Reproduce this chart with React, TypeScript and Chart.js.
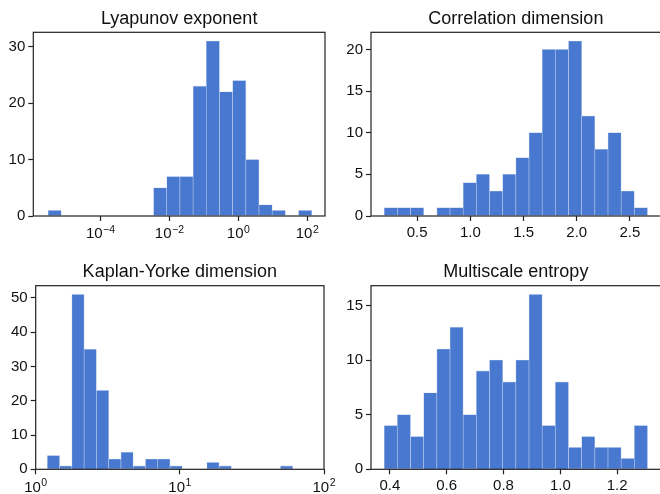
import React, { useEffect, useRef } from "react";
import { Chart, registerables } from "chart.js";

Chart.register(...registerables);

// ---------- DATA ----------
// Lyapunov exponent (log10-spaced bins)
const lyapunovCounts = [1, 0, 0, 0, 0, 0, 0, 0, 5, 7, 7, 23, 31, 22, 24, 10, 2, 1, 0, 1];
const lyapunovBinRangeLog10 = [-5.52, 2.13];
const lyapunovXLimLog10 = [-5.95, 2.515];
const lyapunovXTicks = [1e-4, 1e-2, 1, 100];
const lyapunovXTickExponents = ["−4", "−2", "0", "2"];
const lyapunovYTicks = [0, 10, 20, 30];
const lyapunovYMax = 32.55;

// Correlation dimension (linear bins)
const correlationCounts = [1, 1, 1, 0, 1, 1, 4, 5, 3, 5, 7, 10, 20, 20, 21, 12, 8, 10, 3, 1];
const correlationBinRange = [0.19, 2.665];
const correlationXLim = [0.066, 2.789];
const correlationXTicks = [0.5, 1.0, 1.5, 2.0, 2.5];
const correlationXTickLabels = ["0.5", "1.0", "1.5", "2.0", "2.5"];
const correlationYTicks = [0, 5, 10, 15, 20];
const correlationYMax = 22.05;

// Kaplan-Yorke dimension (log10-spaced bins)
const kaplanCounts = [4, 1, 51, 35, 23, 3, 5, 1, 3, 3, 1, 0, 0, 2, 1, 0, 0, 0, 0, 1];
const kaplanBinRangeLog10 = [0.0807, 1.783];
const kaplanXLimLog10 = [0, 2];
const kaplanXTicks = [1, 10, 100];
const kaplanXTickExponents = ["0", "1", "2"];
const kaplanYTicks = [0, 10, 20, 30, 40, 50];
const kaplanYMax = 53.55;

// Multiscale entropy (linear bins)
const entropyCounts = [4, 5, 3, 7, 11, 13, 5, 9, 10, 8, 10, 16, 4, 8, 2, 3, 2, 2, 1, 4];
const entropyBinRange = [0.38, 1.307];
const entropyXLim = [0.3336, 1.3534];
const entropyXTicks = [0.4, 0.6, 0.8, 1.0, 1.2];
const entropyXTickLabels = ["0.4", "0.6", "0.8", "1.0", "1.2"];
const entropyYTicks = [0, 5, 10, 15];
const entropyYMax = 16.8;

// ---------- LAYOUT / STYLE ----------
const CANVAS_W = 670;
const CANVAS_H = 494;
const Y_AXIS_W = 30;
const X_AXIS_H = 40;
const BAR_COLOR = "#4878CF";
const BAR_EDGE = "#c0d0ee";
const TEXT_COLOR = "#111";
const FONT_FAMILY = '"Liberation Sans", Arial, Helvetica, sans-serif';
const TICK_FONT_SIZE = 15;
const SUP_FONT_SIZE = 10.5;
const TITLE_FONT_SIZE = 18;
const TICK_LEN = 5;
const TICK_PAD = 3;

type Panel = {
  title: string;
  counts: number[];
  binRange: number[];
  log: boolean;
  xLim: number[];
  xTicks: number[];
  xTickLabels: string[];
  yTicks: number[];
  yMax: number;
  area: { l: number; t: number; r: number; b: number };
};

function binCenters(counts: number[], range: number[], log: boolean): number[] {
  const n = counts.length;
  const [lo, hi] = range;
  const w = (hi - lo) / n;
  return counts.map((_, i) => {
    const c = lo + w * (i + 0.5);
    return log ? Math.pow(10, c) : c;
  });
}

const panels: Panel[] = [
  {
    title: "Lyapunov exponent",
    counts: lyapunovCounts,
    binRange: lyapunovBinRangeLog10,
    log: true,
    xLim: lyapunovXLimLog10.map((v) => Math.pow(10, v)),
    xTicks: lyapunovXTicks,
    xTickLabels: lyapunovXTickExponents,
    yTicks: lyapunovYTicks,
    yMax: lyapunovYMax,
    area: { l: 33.3, t: 32.3, r: 325, b: 216 },
  },
  {
    title: "Correlation dimension",
    counts: correlationCounts,
    binRange: correlationBinRange,
    log: false,
    xLim: correlationXLim,
    xTicks: correlationXTicks,
    xTickLabels: correlationXTickLabels,
    yTicks: correlationYTicks,
    yMax: correlationYMax,
    area: { l: 371, t: 32.3, r: 660.7, b: 216 },
  },
  {
    title: "Kaplan-Yorke dimension",
    counts: kaplanCounts,
    binRange: kaplanBinRangeLog10,
    log: true,
    xLim: kaplanXLimLog10.map((v) => Math.pow(10, v)),
    xTicks: kaplanXTicks,
    xTickLabels: kaplanXTickExponents,
    yTicks: kaplanYTicks,
    yMax: kaplanYMax,
    area: { l: 35.7, t: 285.7, r: 324, b: 469.3 },
  },
  {
    title: "Multiscale entropy",
    counts: entropyCounts,
    binRange: entropyBinRange,
    log: false,
    xLim: entropyXLim,
    xTicks: entropyXTicks,
    xTickLabels: entropyXTickLabels,
    yTicks: entropyYTicks,
    yMax: entropyYMax,
    area: { l: 371, t: 285.7, r: 660.7, b: 469.3 },
  },
];

function PanelChart({ cfg }: { cfg: Panel }) {
  const ref = useRef<HTMLCanvasElement>(null);

  useEffect(() => {
    if (!ref.current) return;
    const centers = binCenters(cfg.counts, cfg.binRange, cfg.log);
    const tickFont = { family: FONT_FAMILY, size: TICK_FONT_SIZE };
    const gridOpts = {
      display: true,
      drawOnChartArea: false,
      drawTicks: true,
      tickLength: TICK_LEN,
      tickWidth: 1.2,
      tickColor: "#222",
      offset: false,
    };
    const framePlugin = {
      id: "frameAndTitle",
      afterDraw(chart: any) {
        const { ctx, chartArea } = chart;
        const { left, top, right, bottom } = chartArea;
        ctx.save();
        ctx.strokeStyle = "#222";
        ctx.lineWidth = 1.2;
        ctx.strokeRect(left, top, right - left, bottom - top);
        ctx.font = `${TITLE_FONT_SIZE}px ${FONT_FAMILY}`;
        ctx.fillStyle = TEXT_COLOR;
        ctx.textAlign = "center";
        ctx.textBaseline = "alphabetic";
        ctx.fillText(cfg.title, (left + right) / 2, top - 8.5);

        // log-axis labels: "10" with a raised, smaller exponent
        if (cfg.log) {
          const xs = chart.scales.x;
          const baseFont = `${TICK_FONT_SIZE}px ${FONT_FAMILY}`;
          const supFont = `${SUP_FONT_SIZE}px ${FONT_FAMILY}`;
          const baseline = bottom + TICK_LEN + TICK_PAD + TICK_FONT_SIZE * 0.95;
          ctx.textAlign = "left";
          ctx.textBaseline = "alphabetic";
          cfg.xTicks.forEach((v, i) => {
            const px = xs.getPixelForValue(v);
            ctx.font = baseFont;
            const wBase = ctx.measureText("10").width;
            ctx.font = supFont;
            const wSup = ctx.measureText(cfg.xTickLabels[i]).width;
            const x0 = px - (wBase + wSup + 0.5) / 2;
            ctx.font = baseFont;
            ctx.fillText("10", x0, baseline);
            ctx.font = supFont;
            ctx.fillText(cfg.xTickLabels[i], x0 + wBase + 0.5, baseline - 5.5);
          });
        }
        ctx.restore();
      },
    };
    const { l, t, r, b } = cfg.area;
    const chart = new Chart(ref.current, {
      type: "bar",
      data: {
        datasets: [
          {
            data: centers.map((x, i) => ({ x, y: cfg.counts[i] })),
            backgroundColor: BAR_COLOR,
            borderColor: BAR_EDGE,
            borderWidth: 0.6,
            barPercentage: 1,
            categoryPercentage: 1,
          } as any,
        ],
      },
      options: {
        responsive: false,
        animation: false,
        devicePixelRatio: 1,
        events: [],
        layout: {
          padding: {
            left: l - Y_AXIS_W,
            top: t,
            right: CANVAS_W - r,
            bottom: CANVAS_H - b - X_AXIS_H,
          },
        },
        plugins: {
          legend: { display: false },
          tooltip: { enabled: false },
          title: { display: false },
        },
        scales: {
          x: {
            type: cfg.log ? "logarithmic" : "linear",
            min: cfg.xLim[0],
            max: cfg.xLim[1],
            bounds: "data",
            offset: false,
            grid: gridOpts,
            border: { display: false },
            ticks: {
              font: tickFont,
              color: cfg.log ? "rgba(0,0,0,0)" : TEXT_COLOR,
              padding: TICK_PAD,
              maxRotation: 0,
              autoSkip: false,
              callback: (_v: any, i: number) =>
                cfg.log ? "10" + cfg.xTickLabels[i] : cfg.xTickLabels[i],
            },
            afterBuildTicks: (s: any) => {
              s.ticks = cfg.xTicks.map((v) => ({ value: v }));
            },
            afterFit: (s: any) => {
              s.height = X_AXIS_H;
            },
          } as any,
          y: {
            type: "linear",
            min: 0,
            max: cfg.yMax,
            bounds: "data",
            grid: gridOpts,
            border: { display: false },
            ticks: {
              font: tickFont,
              color: TEXT_COLOR,
              padding: TICK_PAD,
              autoSkip: false,
              callback: (v: any) => String(v),
            },
            afterBuildTicks: (s: any) => {
              s.ticks = cfg.yTicks.map((v) => ({ value: v }));
            },
            afterFit: (s: any) => {
              s.width = Y_AXIS_W;
            },
          } as any,
        },
      },
      plugins: [framePlugin],
    });
    return () => chart.destroy();
  }, [cfg]);

  return (
    <canvas
      ref={ref}
      width={CANVAS_W}
      height={CANVAS_H}
      style={{ position: "absolute", left: 0, top: 0 }}
    />
  );
}

export default function App() {
  return (
    <div
      style={{
        position: "absolute",
        left: 0,
        top: 0,
        width: 660,
        height: 494,
        overflow: "hidden",
        background: "#fff",
      }}
    >
      {panels.map((p) => (
        <PanelChart key={p.title} cfg={p} />
      ))}
    </div>
  );
}
